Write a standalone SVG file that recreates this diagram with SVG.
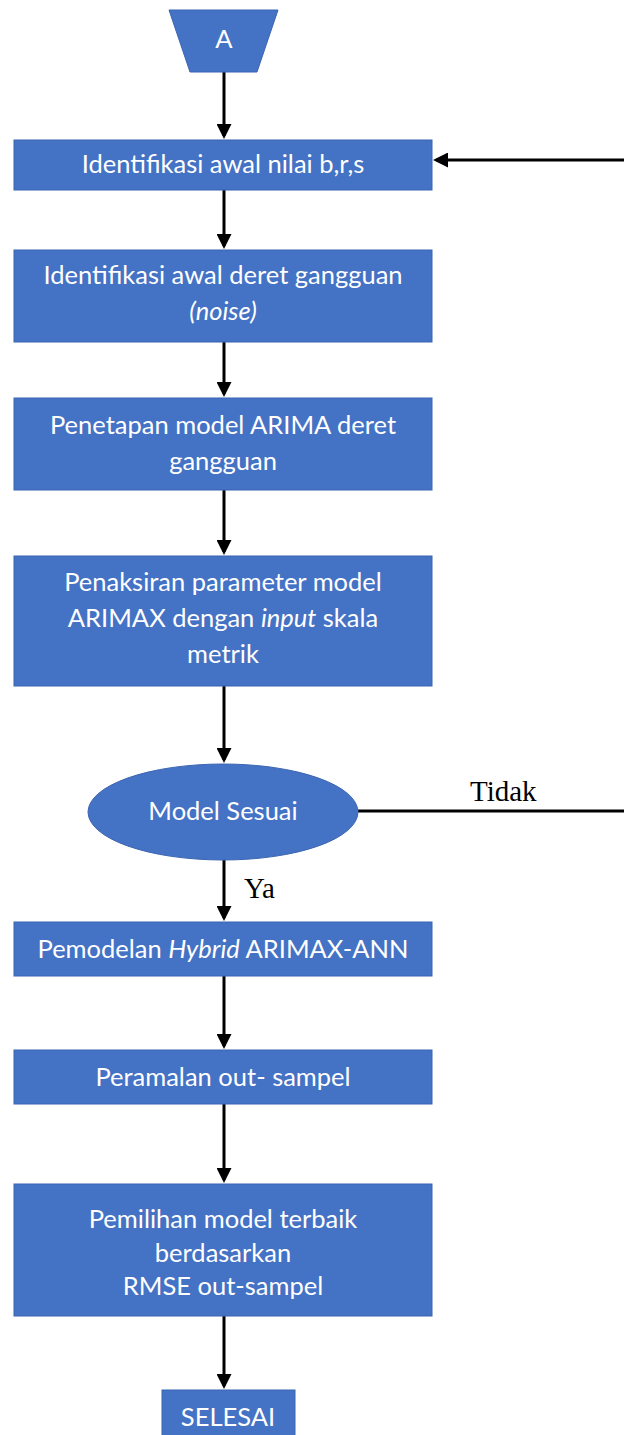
<svg xmlns="http://www.w3.org/2000/svg" width="624" height="1435" viewBox="0 0 624 1435">
<style>
.n{fill:#4472C4;stroke:#3B65B2;stroke-width:1}
.t{font-family:"Lato","Open Sans",sans-serif;font-size:25.5px;fill:#FFFFFF;text-anchor:middle}
.c{stroke:#000;stroke-width:3;fill:none}
.l{font-family:"Liberation Serif",serif;font-size:29px;fill:#000}
</style>
<defs>
<marker id="ah" markerWidth="5" markerHeight="5" refX="4" refY="2.5" orient="auto" markerUnits="strokeWidth">
<path d="M0,0 L5,2.5 L0,5 z" fill="#000"/>
</marker>
</defs>
<g id="connectors">
<line class="c" x1="224" y1="72" x2="224" y2="136" marker-end="url(#ah)"/>
<line class="c" x1="224" y1="190" x2="224" y2="246" marker-end="url(#ah)"/>
<line class="c" x1="224" y1="342" x2="224" y2="394" marker-end="url(#ah)"/>
<line class="c" x1="224" y1="490" x2="224" y2="552" marker-end="url(#ah)"/>
<line class="c" x1="224" y1="686" x2="224" y2="760" marker-end="url(#ah)"/>
<line class="c" x1="224" y1="860" x2="224" y2="918" marker-end="url(#ah)"/>
<line class="c" x1="224" y1="976" x2="224" y2="1046" marker-end="url(#ah)"/>
<line class="c" x1="224" y1="1104" x2="224" y2="1180" marker-end="url(#ah)"/>
<line class="c" x1="224" y1="1316" x2="224" y2="1386" marker-end="url(#ah)"/>
<polyline class="c" points="358,811 628,811 628,160"/>
<line class="c" x1="628" y1="160" x2="436" y2="160" marker-end="url(#ah)"/>
<text class="l" x="470" y="801">Tidak</text>
<text class="l" x="244" y="898">Ya</text>
</g>
<g id="start">
<polygon class="n" points="169,10 278,10 257,72 190,72"/>
<text class="t" x="224" y="48">A</text>
</g>
<g id="box1">
<rect class="n" x="14" y="140" width="418" height="50"/>
<text class="t" x="223" y="173">Identifikasi awal nilai b,r,s</text>
</g>
<g id="box2">
<rect class="n" x="14" y="250" width="418" height="92"/>
<text class="t" x="223" y="284">Identifikasi awal deret gangguan</text>
<text class="t" x="223" y="320" font-style="italic">(noise)</text>
</g>
<g id="box3">
<rect class="n" x="14" y="398" width="418" height="92"/>
<text class="t" x="223" y="434">Penetapan model ARIMA deret</text>
<text class="t" x="223" y="470">gangguan</text>
</g>
<g id="box4">
<rect class="n" x="14" y="556" width="418" height="130"/>
<text class="t" x="223" y="591">Penaksiran parameter model</text>
<text class="t" x="223" y="627">ARIMAX dengan <tspan font-style="italic">input</tspan> skala</text>
<text class="t" x="223" y="663">metrik</text>
</g>
<g id="decision">
<ellipse class="n" cx="223" cy="812" rx="135" ry="48"/>
<text class="t" x="223" y="820">Model Sesuai</text>
</g>
<g id="box5">
<rect class="n" x="14" y="922" width="418" height="54"/>
<text class="t" x="223" y="958">Pemodelan <tspan font-style="italic">Hybrid</tspan> ARIMAX-ANN</text>
</g>
<g id="box6">
<rect class="n" x="14" y="1050" width="418" height="54"/>
<text class="t" x="223" y="1086">Peramalan out- sampel</text>
</g>
<g id="box7">
<rect class="n" x="14" y="1184" width="418" height="132"/>
<text class="t" x="223" y="1228">Pemilihan model terbaik</text>
<text class="t" x="223" y="1262">berdasarkan</text>
<text class="t" x="223" y="1295">RMSE out-sampel</text>
</g>
<g id="end">
<rect class="n" x="162" y="1390" width="133" height="50"/>
<text class="t" x="228" y="1426">SELESAI</text>
</g>
</svg>
